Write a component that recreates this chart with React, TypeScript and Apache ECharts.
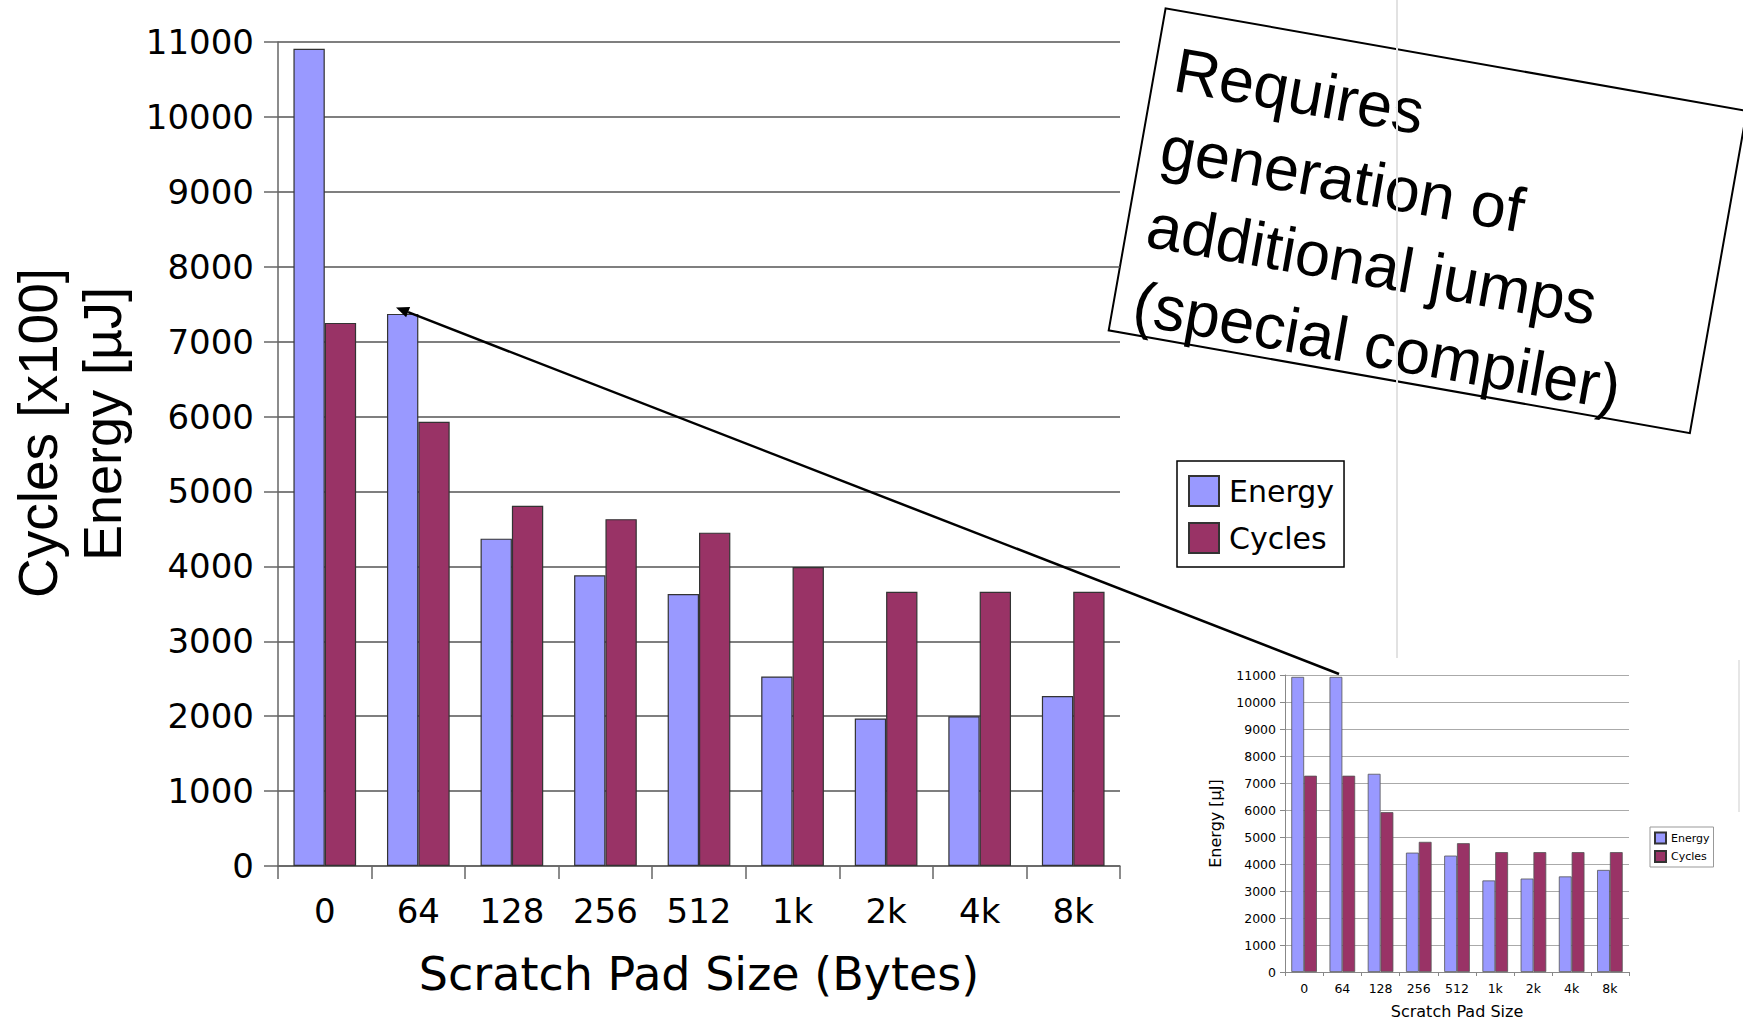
import React, { useEffect, useRef } from "react";
import * as echarts from "echarts";

// ---- data ----
const categories = ["0", "64", "128", "256", "512", "1k", "2k", "4k", "8k"];
const energyMain = [10910, 7370, 4370, 3880, 3630, 2530, 1970, 2000, 2270];
const cyclesMain = [7250, 5930, 4810, 4630, 4450, 3990, 3660, 3660, 3660];
const energyInset = [10930, 10930, 7340, 4420, 4310, 3390, 3460, 3540, 3780];
const cyclesInset = [7270, 7270, 5920, 4820, 4770, 4440, 4440, 4440, 4440];
const seriesNames = ["Energy", "Cycles"];
const yMin = 0;
const yMax = 11000;
const yStep = 1000;
const noteLines = ["Requires", "generation of", "additional jumps", "(special compiler)"];

const ENERGY_COLOR = "#9999ff";
const CYCLES_COLOR = "#993366";
const DJ = "DejaVu Sans";
const LS = "Liberation Sans";

export default function App() {
  const ref = useRef<HTMLDivElement>(null);

  useEffect(() => {
    if (!ref.current) return;
    const chart = echarts.init(ref.current, null, { renderer: "svg" });

    // arrow annotation
    const S = [1339, 674];
    const T = [396, 307.5];
    const dx = T[0] - S[0];
    const dy = T[1] - S[1];
    const len = Math.sqrt(dx * dx + dy * dy);
    const ux = dx / len;
    const uy = dy / len;
    const headLen = 13;
    const headHalf = 5.5;
    const B = [T[0] - ux * headLen, T[1] - uy * headLen];
    const px = -uy;
    const py = ux;

    const plain = (v: number) => String(v);
    const mainAxisLine = { lineStyle: { color: "#666666", width: 1.5 } };
    const insetAxisLine = { lineStyle: { color: "#888888", width: 1 } };

    const option: any = {
      animation: false,
      backgroundColor: "#ffffff",
      grid: [
        { left: 278, top: 42, width: 842, height: 824 },
        { left: 1285, top: 675, width: 344, height: 297 },
      ],
      legend: [
        {
          data: seriesNames,
          orient: "vertical",
          left: 1177,
          top: 461,
          itemWidth: 30,
          itemHeight: 30,
          itemGap: 15,
          padding: [14, 10, 13, 11],
          borderColor: "#000",
          borderWidth: 1.5,
          selectedMode: false,
          icon: "rect",
          textStyle: { fontSize: 30, fontFamily: DJ, color: "#000", padding: [0, 0, 0, 5] },
        },
        {
          data: seriesNames,
          orient: "vertical",
          left: 1650,
          top: 827,
          itemWidth: 11,
          itemHeight: 11,
          itemGap: 5.5,
          padding: [4.5, 4, 4, 4],
          borderColor: "#999",
          borderWidth: 1,
          selectedMode: false,
          icon: "rect",
          textStyle: { fontSize: 11, fontFamily: DJ, color: "#000" },
        },
      ],
      xAxis: [
        {
          type: "category",
          gridIndex: 0,
          data: categories,
          axisLine: mainAxisLine,
          axisTick: { show: true, length: 13, lineStyle: { color: "#666", width: 1.5 } },
          axisLabel: { fontSize: 34, fontFamily: DJ, color: "#000", margin: 28 },
          name: "Scratch Pad Size (Bytes)",
          nameLocation: "middle",
          nameGap: 85,
          nameTextStyle: { fontSize: 46, fontFamily: DJ, color: "#000" },
        },
        {
          type: "category",
          gridIndex: 1,
          data: categories,
          axisLine: insetAxisLine,
          axisTick: { show: true, length: 4, lineStyle: { color: "#888" } },
          axisLabel: { fontSize: 12.5, fontFamily: DJ, color: "#000", margin: 10 },
          name: "Scratch Pad Size",
          nameLocation: "middle",
          nameGap: 31,
          nameTextStyle: { fontSize: 16, fontFamily: DJ, color: "#000" },
        },
      ],
      yAxis: [
        {
          type: "value",
          gridIndex: 0,
          min: yMin,
          max: yMax,
          interval: yStep,
          axisLine: { show: true, ...mainAxisLine },
          axisTick: { show: true, length: 14, lineStyle: { color: "#666", width: 1.5 } },
          axisLabel: { fontSize: 34, fontFamily: DJ, color: "#000", margin: 24, formatter: plain },
          splitLine: { show: true, lineStyle: { color: "#555555", width: 1.5 } },
        },
        {
          type: "value",
          gridIndex: 1,
          min: yMin,
          max: yMax,
          interval: yStep,
          axisLine: { show: true, ...insetAxisLine },
          axisTick: { show: true, length: 5, lineStyle: { color: "#888" } },
          axisLabel: { fontSize: 12.5, fontFamily: DJ, color: "#000", margin: 9, formatter: plain },
          splitLine: { show: true, lineStyle: { color: "#aaaaaa", width: 1 } },
          name: "Energy [µJ]",
          nameLocation: "middle",
          nameRotate: 90,
          nameGap: 62,
          nameTextStyle: { fontSize: 16, fontFamily: DJ, color: "#000" },
        },
      ],
      series: [
        {
          name: seriesNames[0],
          type: "bar",
          xAxisIndex: 0,
          yAxisIndex: 0,
          data: energyMain,
          barGap: "0%",
          barCategoryGap: "33%",
          itemStyle: { color: ENERGY_COLOR, borderColor: "#333", borderWidth: 1.2 },
        },
        {
          name: seriesNames[1],
          type: "bar",
          xAxisIndex: 0,
          yAxisIndex: 0,
          data: cyclesMain,
          barGap: "0%",
          barCategoryGap: "33%",
          itemStyle: { color: CYCLES_COLOR, borderColor: "#333", borderWidth: 1.2 },
        },
        {
          name: seriesNames[0],
          type: "bar",
          xAxisIndex: 1,
          yAxisIndex: 1,
          data: energyInset,
          barGap: "0%",
          barCategoryGap: "33%",
          itemStyle: { color: ENERGY_COLOR, borderColor: "#555", borderWidth: 0.8 },
        },
        {
          name: seriesNames[1],
          type: "bar",
          xAxisIndex: 1,
          yAxisIndex: 1,
          data: cyclesInset,
          barGap: "0%",
          barCategoryGap: "33%",
          itemStyle: { color: CYCLES_COLOR, borderColor: "#555", borderWidth: 0.8 },
        },
      ],
      graphic: [
        // faint slide guide lines
        {
          type: "line",
          z: 1,
          shape: { x1: 1397, y1: 0, x2: 1397, y2: 658 },
          style: { stroke: "#e2e2e2", lineWidth: 2 },
        },
        {
          type: "line",
          z: 1,
          shape: { x1: 1739, y1: 660, x2: 1739, y2: 812 },
          style: { stroke: "#e6e6e6", lineWidth: 2 },
        },
        // y axis title (two lines)
        {
          type: "text",
          z: 50,
          x: 38,
          y: 433,
          rotation: Math.PI / 2,
          style: {
            text: "Cycles [x100]",
            font: `55px "${LS}"`,
            fill: "#000",
            textAlign: "center",
            textVerticalAlign: "middle",
          },
        },
        {
          type: "text",
          z: 50,
          x: 102,
          y: 424,
          rotation: Math.PI / 2,
          style: {
            text: "Energy [µJ]",
            font: `54px "${LS}"`,
            fill: "#000",
            textAlign: "center",
            textVerticalAlign: "middle",
          },
        },
        // arrow
        {
          type: "line",
          z: 100,
          shape: { x1: S[0], y1: S[1], x2: B[0], y2: B[1] },
          style: { stroke: "#000", lineWidth: 2.5 },
        },
        {
          type: "polygon",
          z: 100,
          shape: {
            points: [
              [T[0], T[1]],
              [B[0] + px * headHalf, B[1] + py * headHalf],
              [B[0] - px * headHalf, B[1] - py * headHalf],
            ],
          },
          style: { fill: "#000" },
        },
        // rotated note box
        {
          type: "group",
          z: 90,
          x: 1165.6,
          y: 8.3,
          rotation: (-10 * Math.PI) / 180,
          children: [
            {
              type: "rect",
              shape: { x: 0, y: 0, width: 590, height: 327 },
              style: { fill: "#ffffff", stroke: "#000", lineWidth: 2 },
            },
            ...noteLines.map((t, i) => ({
              type: "text",
              x: 20,
              y: 58 + i * 79,
              style: {
                text: t,
                font: `63px "${LS}"`,
                fill: "#000",
                textAlign: "left",
                textVerticalAlign: "middle",
              },
            })),
          ],
        },
      ],
    };

    chart.setOption(option);
    return () => chart.dispose();
  }, []);

  return (
    <div
      ref={ref}
      style={{ position: "absolute", left: 0, top: 0, width: 1743, height: 1020, background: "#fff" }}
    />
  );
}
